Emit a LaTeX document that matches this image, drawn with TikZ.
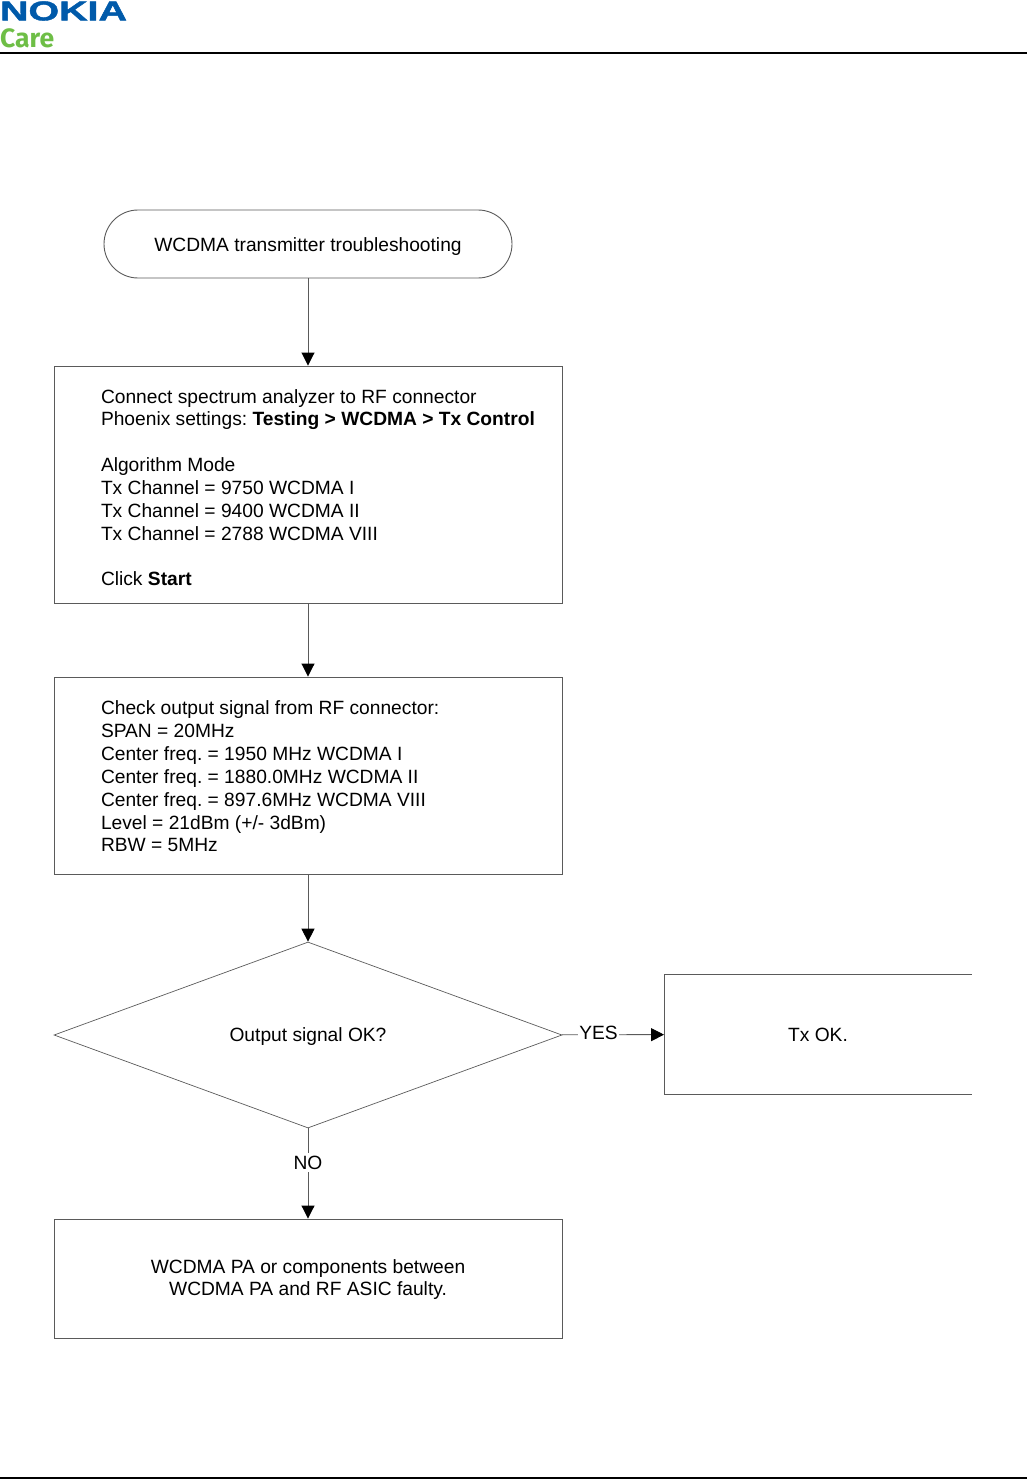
\documentclass[tikz,border=0pt]{standalone}
\usepackage{fontspec}
\setmainfont{Liberation Sans}
\newfontfamily\carefont{Fira Sans}
\newfontfamily\nokiafont[UprightFont=* Bold,FakeBold=1.5]{Liberation Sans}
\usetikzlibrary{shapes.geometric,arrows.meta}
\definecolor{nokiablue}{RGB}{0,90,170}
\definecolor{caregreen}{RGB}{110,190,70}
\definecolor{linegray}{RGB}{90,90,90}
\tikzset{
  every node/.style={font=\fontsize{19.2}{22.85}\selectfont\frenchspacing,text=black},
  stepbox/.style={draw=linegray,line width=.9pt,minimum width=508pt,text width=508pt,inner xsep=0pt,inner ysep=0pt,align=flush left,execute at begin node={\leftskip=47pt}},
  centerbox/.style={draw=linegray,line width=.9pt,minimum width=508pt,inner sep=0pt,align=center},
  conn/.style={draw=linegray,line width=.9pt,-{Triangle[black,length=13pt,width=13pt]}},
  lab/.style={fill=white,inner xsep=1pt,inner ysep=3pt}
}
\begin{document}
\begin{tikzpicture}[x=1pt,y=-1pt]
\useasboundingbox (0,0) rectangle (1027,1479);
\node[inner sep=0pt] (nokia) at (63.5,11) {\resizebox{127pt}{19pt}{\color{nokiablue}\nokiafont NOKIA}};
\node[inner sep=0pt,anchor=west] (care) at (0,38.5) {\resizebox{54pt}{!}{\color{caregreen}\carefont\bfseries Care}};
\coordinate (headl) at (0,53);
\coordinate (headr) at (1027,53);
\coordinate (footl) at (0,1478);
\coordinate (footr) at (1027,1478);
\draw [line width=2pt] (headl) -- (headr);
\draw [line width=2.4pt] (footl) -- (footr);

\node [draw=linegray,line width=.9pt,rectangle,rounded corners=34pt,minimum width=408pt,minimum height=68pt,inner sep=0pt,text height=19pt] (start) at (308,244) {WCDMA transmitter troubleshooting};
\node [stepbox,minimum height=237pt] (setup) at (308,484.5) {\rule{0pt}{20pt}Connect spectrum analyzer to RF connector\\
Phoenix settings: \textbf{Testing > WCDMA > Tx Control}\\[22.85pt]
Algorithm Mode\\
Tx Channel = 9750 WCDMA I\\
Tx Channel = 9400 WCDMA II\\
Tx Channel = 2788 WCDMA VIII\\[22.85pt]
Click \textbf{Start}};
\node [stepbox,minimum height=197pt] (check) at (308,775.5) {\rule{0pt}{16pt}Check output signal from RF connector:\\
SPAN = 20MHz\\
Center freq. = 1950 MHz WCDMA I\\
Center freq. = 1880.0MHz WCDMA II\\
Center freq. = 897.6MHz WCDMA VIII\\
Level = 21dBm (+/- 3dBm)\\
RBW = 5MHz};
\node [draw=linegray,line width=.7pt,diamond,aspect=2.73,minimum width=508pt,minimum height=186pt,inner sep=0pt,text height=16pt] (signal) at (308,1035) {Output signal OK?};
\node [minimum width=307.5pt,minimum height=119pt,inner sep=0pt] (txok) at (818,1034.5) {Tx OK.};
\draw [linegray,line width=.9pt] (txok.north east) -- (txok.north west) -- (txok.south west) -- (txok.south east);
\node [centerbox,minimum height=119pt] (fault) at (308,1278.5) {\rule{0pt}{16pt}WCDMA PA or components between\\WCDMA PA and RF ASIC faulty.};

\draw [conn] (start) -- (setup);
\draw [conn] (setup) -- (check);
\draw [conn] (check) -- (signal);
\draw [conn] (signal) -- node[lab,pos=.35,xshift=1pt,yshift=2pt] {YES} (txok);
\draw [conn] (signal) -- node[lab,pos=.38] {NO} (fault);
\end{tikzpicture}
\end{document}
